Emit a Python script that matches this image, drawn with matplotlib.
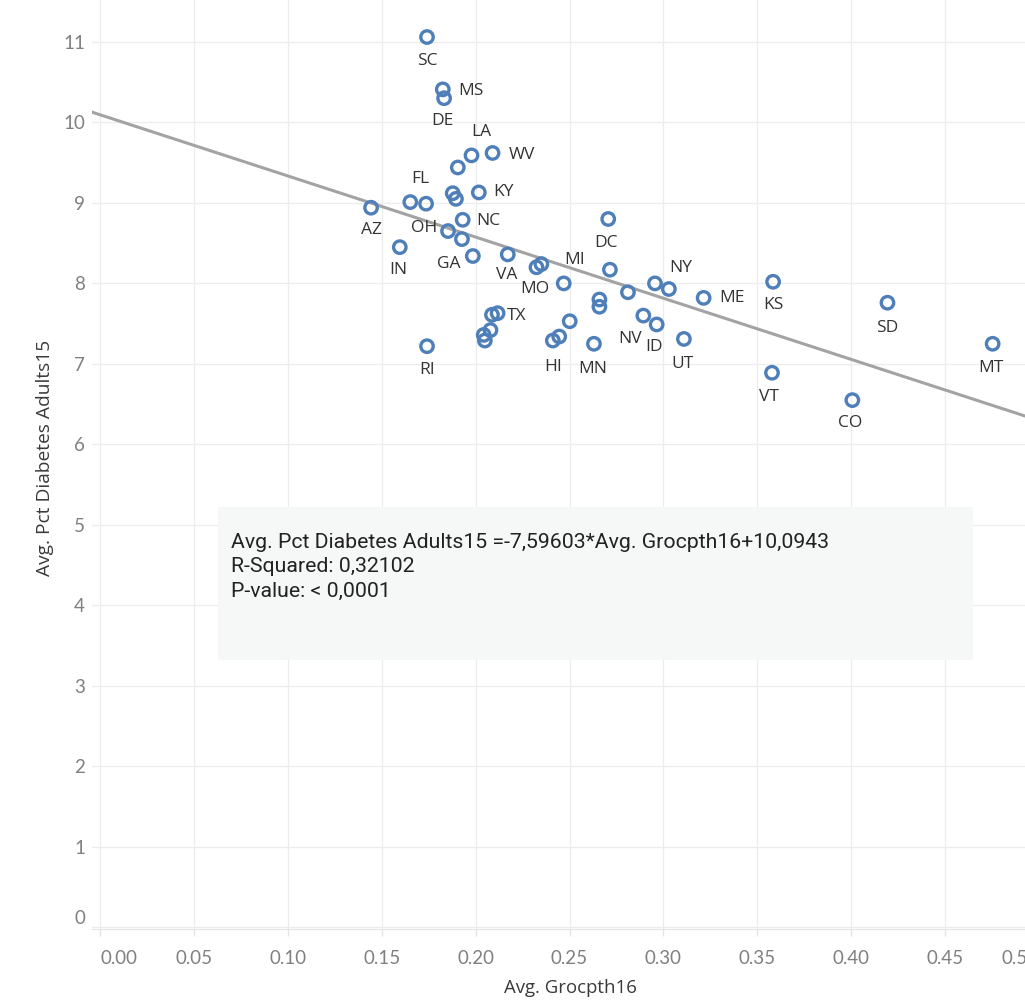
import numpy as np
import matplotlib.pyplot as plt

# === data ===
grocpth16 = [0.1741, 0.1825, 0.1832, 0.1978, 0.2090, 0.1905, 0.1652, 0.1736, 0.1878, 0.1895,
             0.2017, 0.1443, 0.1931, 0.1853, 0.1927, 0.1596, 0.1985, 0.2171, 0.2324, 0.2350,
             0.2469, 0.2087, 0.2117, 0.2079, 0.2043, 0.2049, 0.1741, 0.2411, 0.2445, 0.2501,
             0.2630, 0.2706, 0.2715, 0.2659, 0.2659, 0.2811, 0.2955, 0.3029, 0.3214, 0.2893,
             0.2964, 0.3109, 0.3584, 0.3578, 0.4193, 0.4753, 0.4006]
diabetes15 = [11.06, 10.41, 10.30, 9.59, 9.62, 9.44, 9.01, 8.99, 9.12, 9.05,
              9.13, 8.94, 8.79, 8.65, 8.55, 8.45, 8.34, 8.36, 8.20, 8.24,
              8.00, 7.61, 7.63, 7.42, 7.36, 7.29, 7.22, 7.29, 7.34, 7.53,
              7.25, 8.80, 8.17, 7.80, 7.71, 7.89, 8.00, 7.93, 7.82, 7.60,
              7.49, 7.31, 8.02, 6.89, 7.76, 7.25, 6.55]
states = ['SC', 'MS', 'DE', 'LA', 'WV', '', 'FL', '', '', '',
          'KY', 'AZ', 'NC', 'OH', '', 'IN', 'GA', 'VA', 'MO', '',
          'MI', '', 'TX', '', '', '', 'RI', 'HI', '', '',
          'MN', 'DC', '', '', '', '', '', 'NY', 'ME', 'NV',
          'ID', 'UT', 'KS', 'VT', 'SD', 'MT', 'CO']

slope = -7.59603
intercept = 10.0943
equation = 'Avg. Pct Diabetes Adults15 =-7,59603*Avg. Grocpth16+10,0943'
r_squared = '0,32102'
p_value = '< 0,0001'

x_ticks = [0.00, 0.05, 0.10, 0.15, 0.20, 0.25, 0.30, 0.35, 0.40, 0.45, 0.50]
y_ticks = list(range(0, 12))

# label placement (pixels from marker)
label_offset = {
    'SC': (0, -24), 'MS': (28, -2), 'DE': (-2, -23), 'LA': (10, 23), 'WV': (29, -2),
    'FL': (10, 23), 'KY': (25, 0), 'AZ': (0, -22), 'NC': (26, -1), 'OH': (-24, 3),
    'IN': (-1, -23), 'GA': (-24, -8), 'VA': (-1, -21), 'MO': (-2, -22), 'MI': (11, 23),
    'TX': (19, -3), 'RI': (0, -24), 'HI': (0, -26), 'MN': (-1, -25), 'DC': (-2, -24),
    'NY': (12, 21), 'ME': (28, 0), 'NV': (-13, -23), 'ID': (-3, -23), 'UT': (-1, -25),
    'KS': (0, -23), 'VT': (-3, -24), 'SD': (0, -25), 'MT': (-2, -24), 'CO': (-2, -23),
}

blue = '#4f7fb9'
tick_font = ['Lato', 'DejaVu Sans']
label_font = ['Open Sans', 'DejaVu Sans']
note_font = ['Roboto', 'DejaVu Sans']

fig = plt.figure(figsize=(10.25, 10), dpi=100)
# axes run past the right edge of the figure, as in the cropped original
ax = fig.add_axes([92 / 1025, 71 / 1000, 956.4 / 1025, 929 / 1000])
ax.set_xlim(-0.0043, 0.505)
ax.set_ylim(-0.019, 11.52)

ax.set_xticks(x_ticks)
ax.set_yticks(y_ticks)
ax.set_xticklabels([f'{v:.2f}' for v in x_ticks], fontfamily=tick_font, fontsize=13.5, color='#808080')
ax.set_yticklabels([str(v) for v in y_ticks], fontfamily=tick_font, fontsize=13.5, color='#808080')
ax.get_xticklabels()[0].set_ha('left')
ax.get_xticklabels()[-1].set_ha('right')
ax.get_yticklabels()[0].set_va('bottom')
ax.tick_params(axis='x', length=5, width=1, color='#e4e4e4', pad=10)
ax.tick_params(axis='y', length=0, pad=5)

ax.grid(True, color='#ececec', linewidth=0.9)
ax.set_axisbelow(True)
for side in ['top', 'right', 'left']:
    ax.spines[side].set_visible(False)
ax.spines['bottom'].set_color('#e4e4e4')

xs = np.array(ax.get_xlim())
ax.plot(xs, slope * xs + intercept, color='#a3a3a3', linewidth=2.2, zorder=2)

ax.scatter(grocpth16, diabetes15, s=80, facecolors='none', edgecolors=blue,
           linewidths=2.4, zorder=3)

for x, y, st in zip(grocpth16, diabetes15, states):
    if not st:
        continue
    ax.annotate(st, (x, y), xytext=label_offset[st], textcoords='offset pixels',
                ha='center', va='center', fontsize=12.5, fontfamily=label_font,
                color='#333333', zorder=4)

# trend line description box
fig.patches.append(plt.Rectangle((218 / 1025, 0.34), 755 / 1025, 0.153, transform=fig.transFigure,
                                 facecolor='#f6f7f7', edgecolor='none', alpha=0.92, zorder=5))
note = f'{equation}\nR-Squared: {r_squared}\nP-value: {p_value}'
fig.text(231 / 1025, 1 - 533 / 1000, note, ha='left', va='top', fontsize=15.3,
         fontfamily=note_font, color='#222222', linespacing=1.36, zorder=6)

ax.set_xlabel('Avg. Grocpth16', fontfamily=label_font, fontsize=13.4, color='#3a3a3a')
ax.xaxis.set_label_coords((570 - 92) / 956.4, -(979 - 929) / 929)
ax.set_ylabel('Avg. Pct Diabetes Adults15', fontfamily=label_font, fontsize=13.8, color='#3a3a3a')
ax.yaxis.set_label_coords(-(92 - 54) / 956.4, (929 - 458) / 929)

fig.savefig('out.png', dpi=100)
